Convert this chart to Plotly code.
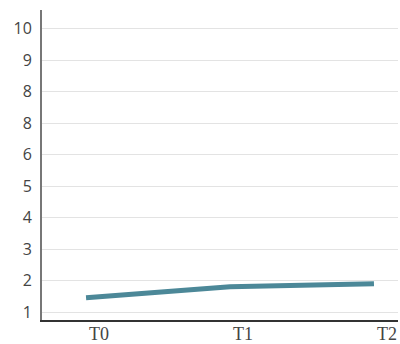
import plotly.graph_objects as go

categories = ["T0", "T1", "T2"]
values = [1.45, 1.8, 1.9]
y_tick_vals = [1, 2, 3, 4, 5, 6, 7, 8, 9, 10]
y_tick_text = ["1", "2", "3", "4", "5", "6", "8", "8", "9", "10"]

x_pos = list(range(len(categories)))

fig = go.Figure()
fig.add_trace(go.Scatter(
    x=x_pos, y=values, mode="lines",
    line=dict(color="#4c8898", width=5, shape="linear"),
    hoverinfo="skip", showlegend=False,
))

fig.update_layout(
    width=400, height=344,
    margin=dict(l=42, r=2, t=10, b=24, autoexpand=False),
    paper_bgcolor="white", plot_bgcolor="white",
    xaxis=dict(
        range=[-0.306, 2.167],
        tickvals=x_pos, ticktext=categories,
        showgrid=False, zeroline=False,
        showline=True, linecolor="#333333", linewidth=1.5,
        ticks="", ticklabelshift=13, ticklabelstandoff=-3,
        tickfont=dict(family="Liberation Serif", size=18, color="#444444"),
    ),
    yaxis=dict(
        range=[0.746, 10.59],
        tickvals=y_tick_vals, ticktext=y_tick_text,
        showgrid=True, gridcolor="#e3e3e3", gridwidth=1,
        zeroline=False,
        showline=True, linecolor="#777777", linewidth=2,
        ticks="", ticklabelstandoff=5,
        tickfont=dict(family="Open Sans", size=16, color="#444444"),
    ),
)

fig.write_html(
    "out.html",
    config={"displayModeBar": False},
    post_script="document.body.style.margin='0';document.body.style.padding='0';",
)
